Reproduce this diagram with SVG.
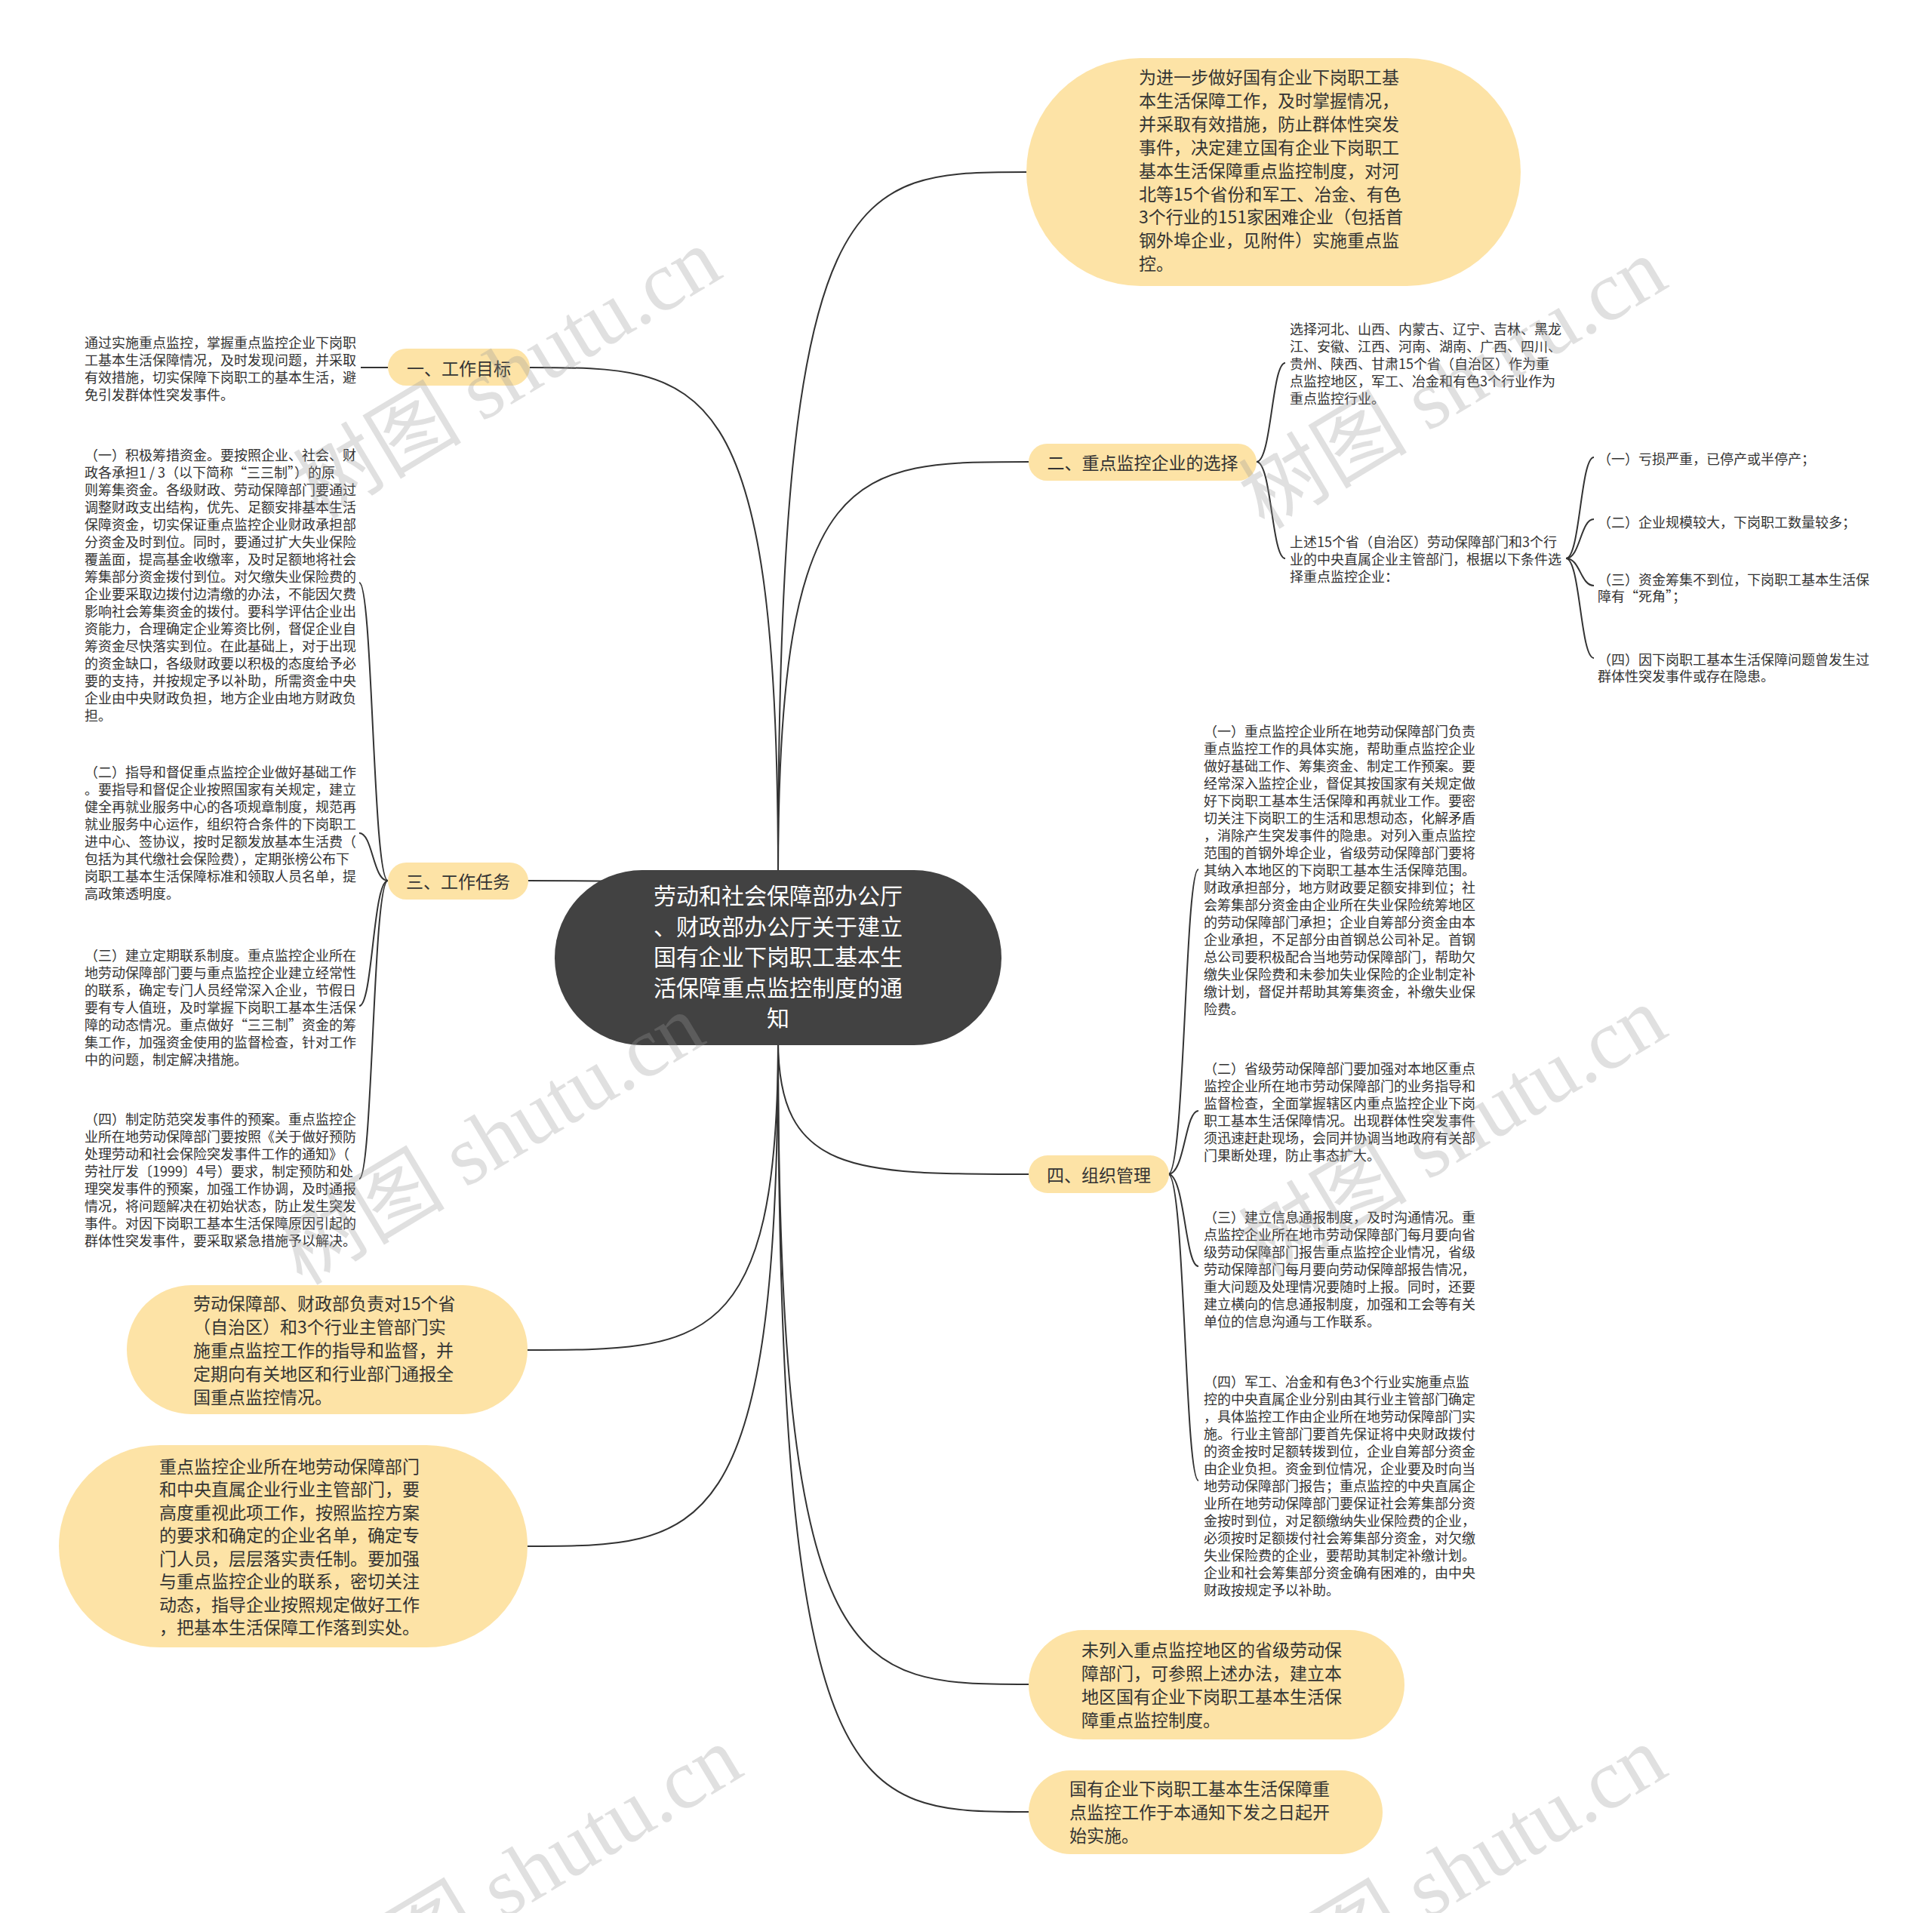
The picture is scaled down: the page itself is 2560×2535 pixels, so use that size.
<svg xmlns="http://www.w3.org/2000/svg" width="2560" height="2535" viewBox="0 0 2560 2535">
<style>
.c{fill:none;stroke:#333;stroke-width:2}
.b{fill:#fde3a6}
.r{fill:#424242}
text{font-family:"Noto Sans CJK SC","Noto Sans",sans-serif;dominant-baseline:central}
.s{font-size:18px;fill:#333}
.m{font-size:23px;fill:#333}
.p{font-size:23px;fill:#333;text-anchor:middle}
.rt{font-size:30px;fill:#fff;text-anchor:middle}
.wm{font-family:"Liberation Serif","Noto Sans CJK SC",serif;font-size:112px;fill:#999;fill-opacity:0.3;text-anchor:middle}
</style>
<rect width="2560" height="2535" fill="#fff"/>
<g id="connectors">
<path class="c" d="M1031,1160 C1031,228 1130,228 1360,228"/>
<path class="c" d="M1031,1160 C1031,612 1131,612 1363,612"/>
<path class="c" d="M1031,1160 C1031,487 932,487 702,487"/>
<path class="c" d="M1031,1269 C1031,1167 932,1167 699,1167"/>
<path class="c" d="M1031,1378 C1031,1556 1131,1556 1363,1556"/>
<path class="c" d="M1031,1378 C1031,2232 1131,2232 1363,2232"/>
<path class="c" d="M1031,1378 C1031,2401 1131,2401 1363,2401"/>
<path class="c" d="M1031,1378 C1031,1789 931,1789 699,1789"/>
<path class="c" d="M1031,1378 C1031,2049 931,2049 699,2049"/>
<path class="c" d="M514,487 L478,487"/>
<path class="c" d="M514,1167 C494,1167 494,772 476,772"/>
<path class="c" d="M514,1167 C494,1167 494,1104 476,1104"/>
<path class="c" d="M514,1167 C494,1167 494,1333 476,1333"/>
<path class="c" d="M514,1167 C494,1167 494,1562 476,1562"/>
<path class="c" d="M1665,612 C1685,612 1685,481 1703,481"/>
<path class="c" d="M1665,612 C1685,612 1685,740 1703,740"/>
<path class="c" d="M2075,740 C2094,740 2094,606 2112,606"/>
<path class="c" d="M2075,740 C2094,740 2094,688 2112,688"/>
<path class="c" d="M2075,740 C2094,740 2094,776 2112,776"/>
<path class="c" d="M2075,740 C2094,740 2094,872 2112,872"/>
<path class="c" d="M1548,1556 C1570,1556 1570,1152 1588,1152"/>
<path class="c" d="M1548,1556 C1570,1556 1570,1472 1588,1472"/>
<path class="c" d="M1548,1556 C1570,1556 1570,1678 1588,1678"/>
<path class="c" d="M1548,1556 C1570,1556 1570,1962 1588,1962"/>
</g>
<g id="root">
<rect class="r" x="735" y="1153" width="592" height="232" rx="116"/>
<text class="rt"><tspan x="1031" y="1185">劳动和社会保障部办公厅</tspan><tspan x="1031" y="1226">、财政部办公厅关于建立</tspan><tspan x="1031" y="1266">国有企业下岗职工基本生</tspan><tspan x="1031" y="1307">活保障重点监控制度的通</tspan><tspan x="1031" y="1347">知</tspan></text>
</g>
<g id="n-intro">
<rect class="b" x="1360" y="77" width="655" height="302" rx="151"/>
<text class="m"><tspan x="1509" y="101">为进一步做好国有企业下岗职工基</tspan><tspan x="1509" y="132">本生活保障工作，及时掌握情况，</tspan><tspan x="1509" y="163">并采取有效措施，防止群体性突发</tspan><tspan x="1509" y="194">事件，决定建立国有企业下岗职工</tspan><tspan x="1509" y="225">基本生活保障重点监控制度，对河</tspan><tspan x="1509" y="256">北等15个省份和军工、冶金、有色</tspan><tspan x="1509" y="286">3个行业的151家困难企业（包括首</tspan><tspan x="1509" y="317">钢外埠企业，见附件）实施重点监</tspan><tspan x="1509" y="348">控。</tspan></text>
</g>
<g id="n-goal">
<rect class="b" x="514" y="462" width="188" height="49" rx="24.5"/>
<text class="p" x="608" y="487">一、工作目标</text>
</g>
<g id="n-goal-text">
<text class="s"><tspan x="112" y="453">通过实施重点监控，掌握重点监控企业下岗职</tspan><tspan x="112" y="476">工基本生活保障情况，及时发现问题，并采取</tspan><tspan x="112" y="499">有效措施，切实保障下岗职工的基本生活，避</tspan><tspan x="112" y="522">免引发群体性突发事件。</tspan></text>
</g>
<g id="n-task">
<rect class="b" x="514" y="1143" width="186" height="49" rx="24.5"/>
<text class="p" x="607" y="1167">三、工作任务</text>
</g>
<g id="n-task-1">
<text class="s"><tspan x="112" y="602">（一）积极筹措资金。要按照企业、社会、财</tspan><tspan x="112" y="625">政各承担1 / 3（以下简称“三三制”）的原</tspan><tspan x="112" y="648">则筹集资金。各级财政、劳动保障部门要通过</tspan><tspan x="112" y="671">调整财政支出结构，优先、足额安排基本生活</tspan><tspan x="112" y="694">保障资金，切实保证重点监控企业财政承担部</tspan><tspan x="112" y="717">分资金及时到位。同时，要通过扩大失业保险</tspan><tspan x="112" y="740">覆盖面，提高基金收缴率，及时足额地将社会</tspan><tspan x="112" y="763">筹集部分资金拨付到位。对欠缴失业保险费的</tspan><tspan x="112" y="786">企业要采取边拨付边清缴的办法，不能因欠费</tspan><tspan x="112" y="809">影响社会筹集资金的拨付。要科学评估企业出</tspan><tspan x="112" y="832">资能力，合理确定企业筹资比例，督促企业自</tspan><tspan x="112" y="855">筹资金尽快落实到位。在此基础上，对于出现</tspan><tspan x="112" y="878">的资金缺口，各级财政要以积极的态度给予必</tspan><tspan x="112" y="901">要的支持，并按规定予以补助，所需资金中央</tspan><tspan x="112" y="924">企业由中央财政负担，地方企业由地方财政负</tspan><tspan x="112" y="947">担。</tspan></text>
</g>
<g id="n-task-2">
<text class="s"><tspan x="112" y="1022">（二）指导和督促重点监控企业做好基础工作</tspan><tspan x="112" y="1045">。要指导和督促企业按照国家有关规定，建立</tspan><tspan x="112" y="1068">健全再就业服务中心的各项规章制度，规范再</tspan><tspan x="112" y="1091">就业服务中心运作，组织符合条件的下岗职工</tspan><tspan x="112" y="1114">进中心、签协议，按时足额发放基本生活费（</tspan><tspan x="112" y="1137">包括为其代缴社会保险费），定期张榜公布下</tspan><tspan x="112" y="1160">岗职工基本生活保障标准和领取人员名单，提</tspan><tspan x="112" y="1183">高政策透明度。</tspan></text>
</g>
<g id="n-task-3">
<text class="s"><tspan x="112" y="1265">（三）建立定期联系制度。重点监控企业所在</tspan><tspan x="112" y="1288">地劳动保障部门要与重点监控企业建立经常性</tspan><tspan x="112" y="1311">的联系，确定专门人员经常深入企业，节假日</tspan><tspan x="112" y="1334">要有专人值班，及时掌握下岗职工基本生活保</tspan><tspan x="112" y="1357">障的动态情况。重点做好“三三制”资金的筹</tspan><tspan x="112" y="1380">集工作，加强资金使用的监督检查，针对工作</tspan><tspan x="112" y="1403">中的问题，制定解决措施。</tspan></text>
</g>
<g id="n-task-4">
<text class="s"><tspan x="112" y="1482">（四）制定防范突发事件的预案。重点监控企</tspan><tspan x="112" y="1505">业所在地劳动保障部门要按照《关于做好预防</tspan><tspan x="112" y="1528">处理劳动和社会保险突发事件工作的通知》（</tspan><tspan x="112" y="1551">劳社厅发〔1999〕4号）要求，制定预防和处</tspan><tspan x="112" y="1574">理突发事件的预案，加强工作协调，及时通报</tspan><tspan x="112" y="1597">情况，将问题解决在初始状态，防止发生突发</tspan><tspan x="112" y="1620">事件。对因下岗职工基本生活保障原因引起的</tspan><tspan x="112" y="1643">群体性突发事件，要采取紧急措施予以解决。</tspan></text>
</g>
<g id="n-select">
<rect class="b" x="1363" y="588" width="302" height="49" rx="24.5"/>
<text class="p" x="1514" y="612">二、重点监控企业的选择</text>
</g>
<g id="n-select-1">
<text class="s"><tspan x="1709" y="435">选择河北、山西、内蒙古、辽宁、吉林、黑龙</tspan><tspan x="1709" y="458">江、安徽、江西、河南、湖南、广西、四川、</tspan><tspan x="1709" y="481">贵州、陕西、甘肃15个省（自治区）作为重</tspan><tspan x="1709" y="504">点监控地区，军工、冶金和有色3个行业作为</tspan><tspan x="1709" y="527">重点监控行业。</tspan></text>
</g>
<g id="n-select-2">
<text class="s"><tspan x="1709" y="717">上述15个省（自治区）劳动保障部门和3个行</tspan><tspan x="1709" y="740">业的中央直属企业主管部门，根据以下条件选</tspan><tspan x="1709" y="763">择重点监控企业：</tspan></text>
</g>
<g id="n-cond-1"><text class="s" x="2117" y="607">（一）亏损严重，已停产或半停产；</text></g>
<g id="n-cond-2"><text class="s" x="2117" y="691">（二）企业规模较大，下岗职工数量较多；</text></g>
<g id="n-cond-3"><text class="s"><tspan x="2117" y="767">（三）资金筹集不到位，下岗职工基本生活保</tspan><tspan x="2117" y="789">障有“死角”；</tspan></text></g>
<g id="n-cond-4"><text class="s"><tspan x="2117" y="873">（四）因下岗职工基本生活保障问题曾发生过</tspan><tspan x="2117" y="895">群体性突发事件或存在隐患。</tspan></text></g>
<g id="n-org">
<rect class="b" x="1363" y="1531" width="186" height="50" rx="25"/>
<text class="p" x="1456" y="1556">四、组织管理</text>
</g>
<g id="n-org-1">
<text class="s"><tspan x="1595" y="968">（一）重点监控企业所在地劳动保障部门负责</tspan><tspan x="1595" y="991">重点监控工作的具体实施，帮助重点监控企业</tspan><tspan x="1595" y="1014">做好基础工作、筹集资金、制定工作预案。要</tspan><tspan x="1595" y="1037">经常深入监控企业，督促其按国家有关规定做</tspan><tspan x="1595" y="1060">好下岗职工基本生活保障和再就业工作。要密</tspan><tspan x="1595" y="1083">切关注下岗职工的生活和思想动态，化解矛盾</tspan><tspan x="1595" y="1106">，消除产生突发事件的隐患。对列入重点监控</tspan><tspan x="1595" y="1129">范围的首钢外埠企业，省级劳动保障部门要将</tspan><tspan x="1595" y="1152">其纳入本地区的下岗职工基本生活保障范围。</tspan><tspan x="1595" y="1175">财政承担部分，地方财政要足额安排到位；社</tspan><tspan x="1595" y="1198">会筹集部分资金由企业所在失业保险统筹地区</tspan><tspan x="1595" y="1221">的劳动保障部门承担；企业自筹部分资金由本</tspan><tspan x="1595" y="1244">企业承担，不足部分由首钢总公司补足。首钢</tspan><tspan x="1595" y="1267">总公司要积极配合当地劳动保障部门，帮助欠</tspan><tspan x="1595" y="1290">缴失业保险费和未参加失业保险的企业制定补</tspan><tspan x="1595" y="1313">缴计划，督促并帮助其筹集资金，补缴失业保</tspan><tspan x="1595" y="1336">险费。</tspan></text>
</g>
<g id="n-org-2">
<text class="s"><tspan x="1595" y="1415">（二）省级劳动保障部门要加强对本地区重点</tspan><tspan x="1595" y="1438">监控企业所在地市劳动保障部门的业务指导和</tspan><tspan x="1595" y="1461">监督检查，全面掌握辖区内重点监控企业下岗</tspan><tspan x="1595" y="1484">职工基本生活保障情况。出现群体性突发事件</tspan><tspan x="1595" y="1507">须迅速赶赴现场，会同并协调当地政府有关部</tspan><tspan x="1595" y="1530">门果断处理，防止事态扩大。</tspan></text>
</g>
<g id="n-org-3">
<text class="s"><tspan x="1595" y="1612">（三）建立信息通报制度，及时沟通情况。重</tspan><tspan x="1595" y="1635">点监控企业所在地市劳动保障部门每月要向省</tspan><tspan x="1595" y="1658">级劳动保障部门报告重点监控企业情况，省级</tspan><tspan x="1595" y="1681">劳动保障部门每月要向劳动保障部报告情况，</tspan><tspan x="1595" y="1704">重大问题及处理情况要随时上报。同时，还要</tspan><tspan x="1595" y="1727">建立横向的信息通报制度，加强和工会等有关</tspan><tspan x="1595" y="1750">单位的信息沟通与工作联系。</tspan></text>
</g>
<g id="n-org-4">
<text class="s"><tspan x="1595" y="1830">（四）军工、冶金和有色3个行业实施重点监</tspan><tspan x="1595" y="1853">控的中央直属企业分别由其行业主管部门确定</tspan><tspan x="1595" y="1876">，具体监控工作由企业所在地劳动保障部门实</tspan><tspan x="1595" y="1899">施。行业主管部门要首先保证将中央财政拨付</tspan><tspan x="1595" y="1922">的资金按时足额转拨到位，企业自筹部分资金</tspan><tspan x="1595" y="1945">由企业负担。资金到位情况，企业要及时向当</tspan><tspan x="1595" y="1968">地劳动保障部门报告；重点监控的中央直属企</tspan><tspan x="1595" y="1991">业所在地劳动保障部门要保证社会筹集部分资</tspan><tspan x="1595" y="2014">金按时到位，对足额缴纳失业保险费的企业，</tspan><tspan x="1595" y="2037">必须按时足额拨付社会筹集部分资金，对欠缴</tspan><tspan x="1595" y="2060">失业保险费的企业，要帮助其制定补缴计划。</tspan><tspan x="1595" y="2083">企业和社会筹集部分资金确有困难的，由中央</tspan><tspan x="1595" y="2106">财政按规定予以补助。</tspan></text>
</g>
<g id="n-ministry">
<rect class="b" x="168" y="1703" width="531" height="171" rx="85.5"/>
<text class="m"><tspan x="256" y="1726">劳动保障部、财政部负责对15个省</tspan><tspan x="256" y="1757">（自治区）和3个行业主管部门实</tspan><tspan x="256" y="1788">施重点监控工作的指导和监督，并</tspan><tspan x="256" y="1819">定期向有关地区和行业部门通报全</tspan><tspan x="256" y="1850">国重点监控情况。</tspan></text>
</g>
<g id="n-local">
<rect class="b" x="78" y="1915" width="621" height="268" rx="134"/>
<text class="m"><tspan x="211" y="1942">重点监控企业所在地劳动保障部门</tspan><tspan x="211" y="1972">和中央直属企业行业主管部门，要</tspan><tspan x="211" y="2003">高度重视此项工作，按照监控方案</tspan><tspan x="211" y="2033">的要求和确定的企业名单，确定专</tspan><tspan x="211" y="2064">门人员，层层落实责任制。要加强</tspan><tspan x="211" y="2094">与重点监控企业的联系，密切关注</tspan><tspan x="211" y="2125">动态，指导企业按照规定做好工作</tspan><tspan x="211" y="2155">，把基本生活保障工作落到实处。</tspan></text>
</g>
<g id="n-other">
<rect class="b" x="1363" y="2160" width="498" height="145" rx="72.5"/>
<text class="m"><tspan x="1433" y="2185">未列入重点监控地区的省级劳动保</tspan><tspan x="1433" y="2216">障部门，可参照上述办法，建立本</tspan><tspan x="1433" y="2247">地区国有企业下岗职工基本生活保</tspan><tspan x="1433" y="2278">障重点监控制度。</tspan></text>
</g>
<g id="n-date">
<rect class="b" x="1363" y="2346" width="469" height="111" rx="55.5"/>
<text class="m"><tspan x="1417" y="2369">国有企业下岗职工基本生活保障重</tspan><tspan x="1417" y="2400">点监控工作于本通知下发之日起开</tspan><tspan x="1417" y="2431">始实施。</tspan></text>
</g>
<g id="watermarks">
<text class="wm" transform="translate(672,495) rotate(-31)">树图 shutu.cn</text>
<text class="wm" transform="translate(1925,508) rotate(-31)">树图 shutu.cn</text>
<text class="wm" transform="translate(650,1510) rotate(-31)">树图 shutu.cn</text>
<text class="wm" transform="translate(1925,1500) rotate(-31)">树图 shutu.cn</text>
<text class="wm" transform="translate(700,2480) rotate(-31)">树图 shutu.cn</text>
<text class="wm" transform="translate(1925,2480) rotate(-31)">树图 shutu.cn</text>
</g>
</svg>
